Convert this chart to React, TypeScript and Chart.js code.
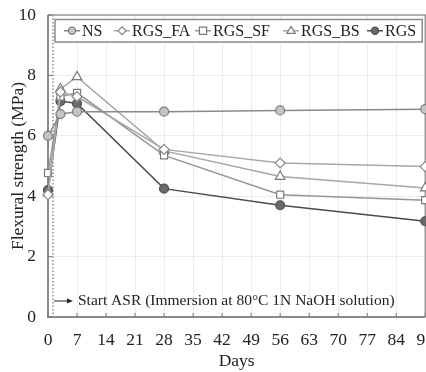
import React, { useEffect, useRef } from "react";
import { Chart, registerables } from "chart.js";

Chart.register(...registerables);

const days = [0, 3, 7, 28, 56, 91];
const seriesNames = ["NS", "RGS_FA", "RGS_SF", "RGS_BS", "RGS"];
const ns = [6.0, 6.72, 6.8, 6.8, 6.84, 6.88];
const rgsFa = [4.05, 7.45, 7.3, 5.55, 5.1, 4.98];
const rgsSf = [4.77, 7.3, 7.42, 5.35, 4.05, 3.87];
const rgsBs = [4.1, 7.55, 7.95, 5.5, 4.65, 4.27];
const rgs = [4.2, 7.15, 7.07, 4.25, 3.7, 3.17];
const xTicks = [0, 7, 14, 21, 28, 35, 42, 49, 56, 63, 70, 77, 84, 91];
const yTicks = [0, 2, 4, 6, 8, 10];
const asrStartDay = 1.2;
const annotationText = "Start ASR (Immersion at 80°C 1N NaOH solution)";
const annotationY = 0.53;

const FONT = "'Liberation Serif', 'DejaVu Serif', serif";

const styles = [
  { line: "#8a8a8a", fill: "#c4c4c4", border: "#7a7a7a", point: "circle", r: 4.5 },
  { line: "#a6a6a6", fill: "#ffffff", border: "#8a8a8a", point: "rectRot", r: 5 },
  { line: "#969696", fill: "#ffffff", border: "#7a7a7a", point: "rect", r: 5 },
  { line: "#a6a6a6", fill: "#ffffff", border: "#7a7a7a", point: "triangle", r: 5.5 },
  { line: "#4a4a4a", fill: "#6a6a6a", border: "#505050", point: "circle", r: 4.5 },
];

const allValues = [ns, rgsFa, rgsSf, rgsBs, rgs];

function drawMarker(ctx: CanvasRenderingContext2D, style: string, x: number, y: number, r: number) {
  ctx.beginPath();
  if (style === "circle") {
    ctx.arc(x, y, r, 0, Math.PI * 2);
  } else if (style === "rect") {
    const s = r * 0.9;
    ctx.rect(x - s, y - s, 2 * s, 2 * s);
  } else if (style === "rectRot") {
    ctx.moveTo(x, y - r);
    ctx.lineTo(x + r, y);
    ctx.lineTo(x, y + r);
    ctx.lineTo(x - r, y);
    ctx.closePath();
  } else if (style === "triangle") {
    ctx.moveTo(x, y - r);
    ctx.lineTo(x + r * 0.95, y + r * 0.6);
    ctx.lineTo(x - r * 0.95, y + r * 0.6);
    ctx.closePath();
  }
  ctx.fill();
  ctx.stroke();
}

const decorPlugin = {
  id: "decor",
  beforeDatasetsDraw(chart: any) {
    const { ctx, chartArea, scales } = chart;
    const xs = scales.x;
    const ys = scales.y;
    ctx.save();
    const dx = xs.getPixelForValue(asrStartDay);
    ctx.strokeStyle = "#555";
    ctx.lineWidth = 1;
    ctx.setLineDash([1.5, 2]);
    ctx.beginPath();
    ctx.moveTo(dx, chartArea.top);
    ctx.lineTo(dx, chartArea.bottom);
    ctx.stroke();
    ctx.setLineDash([]);
    const ay = ys.getPixelForValue(annotationY);
    ctx.strokeStyle = "#222";
    ctx.fillStyle = "#222";
    ctx.beginPath();
    ctx.moveTo(dx + 1, ay);
    ctx.lineTo(dx + 17, ay);
    ctx.stroke();
    ctx.beginPath();
    ctx.moveTo(dx + 20, ay);
    ctx.lineTo(dx + 14, ay - 2.5);
    ctx.lineTo(dx + 14, ay + 2.5);
    ctx.closePath();
    ctx.fill();
    ctx.font = `15.5px ${FONT}`;
    ctx.textBaseline = "middle";
    ctx.textAlign = "left";
    ctx.fillText(annotationText, dx + 25, ay);
    ctx.strokeStyle = "#9a9a9a";
    ctx.lineWidth = 1.5;
    ctx.beginPath();
    ctx.moveTo(chartArea.left, chartArea.top);
    ctx.lineTo(chartArea.right, chartArea.top);
    ctx.lineTo(chartArea.right, chartArea.bottom);
    ctx.stroke();
    ctx.strokeStyle = "#8a8a8a";
    ctx.lineWidth = 2;
    ctx.beginPath();
    ctx.moveTo(chartArea.left, chartArea.top);
    ctx.lineTo(chartArea.left, chartArea.bottom);
    ctx.lineTo(chartArea.right, chartArea.bottom);
    ctx.stroke();
    ctx.lineWidth = 1;
    ctx.strokeStyle = "#777";
    ctx.beginPath();
    xTicks.forEach((t) => {
      const px = xs.getPixelForValue(t);
      ctx.moveTo(px, chartArea.bottom);
      ctx.lineTo(px, chartArea.bottom - 4);
    });
    yTicks.forEach((t) => {
      const py = ys.getPixelForValue(t);
      ctx.moveTo(chartArea.left, py);
      ctx.lineTo(chartArea.left + 4, py);
    });
    ctx.stroke();
    ctx.restore();
  },
  afterDraw(chart: any) {
    const { ctx, chartArea } = chart;
    ctx.save();
    const left = chartArea.left + 7;
    const right = chartArea.right - 3;
    const top = chartArea.top + 4.5;
    const bottom = chartArea.top + 27;
    ctx.fillStyle = "#fff";
    ctx.fillRect(left, top, right - left, bottom - top);
    ctx.strokeStyle = "#8a8a8a";
    ctx.lineWidth = 1.5;
    ctx.strokeRect(left, top, right - left, bottom - top);
    const cy = (top + bottom) / 2;
    ctx.font = `16px ${FONT}`;
    ctx.textBaseline = "middle";
    ctx.textAlign = "left";
    const markerCenters = [72, 122, 203, 291, 375];
    seriesNames.forEach((name, i) => {
      const st = styles[i];
      const mx = markerCenters[i];
      ctx.strokeStyle = st.line;
      ctx.lineWidth = 1.5;
      ctx.beginPath();
      ctx.moveTo(mx - 8, cy);
      ctx.lineTo(mx + 8, cy);
      ctx.stroke();
      ctx.fillStyle = st.fill;
      ctx.strokeStyle = st.border;
      ctx.lineWidth = 1.2;
      drawMarker(ctx, st.point, mx, cy, st.r * 0.8);
      ctx.fillStyle = "#222";
      ctx.fillText(name, mx + 10, cy + 1);
    });
    ctx.restore();
  },
};

export default function App() {
  const canvasRef = useRef<HTMLCanvasElement | null>(null);

  useEffect(() => {
    if (!canvasRef.current) return;
    const datasets = seriesNames.map((name, i) => ({
      label: name,
      data: days.map((d, j) => ({ x: d, y: allValues[i][j] })),
      borderColor: styles[i].line,
      backgroundColor: styles[i].fill,
      pointBackgroundColor: styles[i].fill,
      pointBorderColor: styles[i].border,
      pointBorderWidth: 1.2,
      pointStyle: styles[i].point,
      pointRadius: styles[i].r,
      borderWidth: 1.5,
      tension: 0,
      clip: false as any,
    }));
    const chart = new Chart(canvasRef.current, {
      type: "line",
      data: { datasets },
      plugins: [decorPlugin],
      options: {
        animation: false,
        responsive: false,
        layout: { padding: { top: 15, right: 12, left: 0, bottom: 0 } },
        plugins: { legend: { display: false }, tooltip: { enabled: false } },
        scales: {
          x: {
            type: "linear",
            min: 0,
            max: 91,
            afterBuildTicks: (scale: any) => {
              scale.ticks = xTicks.map((v) => ({ value: v }));
            },
            ticks: {
              font: { family: FONT, size: 17.5 },
              color: "#222",
              padding: 13,
              maxRotation: 0,
              autoSkip: false,
            },
            grid: { color: "#ececec", drawTicks: false },
            border: { display: false },
            title: {
              display: true,
              text: "Days",
              font: { family: FONT, size: 17.5 },
              color: "#222",
              padding: { top: 3, bottom: 0 },
            },
            afterFit: (scale: any) => {
              scale.height = 55;
            },
          },
          y: {
            min: 0,
            max: 10,
            afterBuildTicks: (scale: any) => {
              scale.ticks = yTicks.map((v) => ({ value: v }));
            },
            ticks: {
              font: { family: FONT, size: 17.5 },
              color: "#222",
              padding: 12,
            },
            grid: { color: "#ececec", drawTicks: false },
            border: { display: false },
            title: {
              display: true,
              text: "Flexural strength (MPa)",
              font: { family: FONT, size: 17.5 },
              color: "#222",
              padding: { top: 8, bottom: 0 },
            },
            afterFit: (scale: any) => {
              scale.width = 48;
              scale.paddingTop = 0;
              scale.paddingBottom = 0;
            },
          },
        },
      },
    });
    return () => chart.destroy();
  }, []);

  return (
    <div style={{ position: "fixed", left: 0, top: 0, width: 426, height: 372, overflow: "hidden", background: "#fff" }}>
      <canvas ref={canvasRef} width={447} height={372} style={{ display: "block" }} />
    </div>
  );
}
